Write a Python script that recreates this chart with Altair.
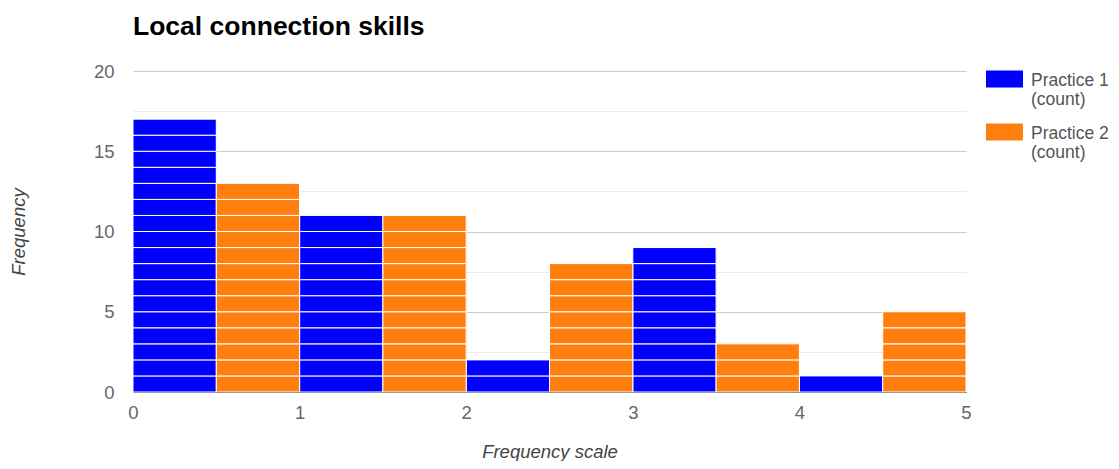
import altair as alt
import pandas as pd

# Histogram bins (left edge) and counts for each series
p1_bins = [0.0, 1.0, 2.0, 3.0, 4.0]
p1_counts = [17, 11, 2, 9, 1]
p2_bins = [0.5, 1.5, 2.5, 3.5, 4.5]
p2_counts = [13, 11, 8, 3, 5]
series_names = ["Practice 1 (count)", "Practice 2 (count)"]
series_colors = ["#0000ff", "#ff7f0e"]
bin_width = 0.5

rows = []
for name, bins, counts in [(series_names[0], p1_bins, p1_counts),
                           (series_names[1], p2_bins, p2_counts)]:
    for b, c in zip(bins, counts):
        for k in range(c):
            rows.append({"series": name, "x0": b, "x1": b + bin_width,
                         "y0": k, "y1": k + 1})
df = pd.DataFrame(rows)

FONT = "Liberation Sans"
FS = 18.5

y_ticks = [i * 2.5 for i in range(9)]

bars = alt.Chart(df).mark_rect(stroke="white", strokeWidth=1).encode(
    x=alt.X("x0:Q", scale=alt.Scale(domain=[0, 5], nice=False),
            axis=alt.Axis(values=[0, 1, 2, 3, 4, 5], title="Frequency scale",
                          grid=False, ticks=False, labelPadding=11,
                          labelFlush=False,
                          domainColor="#333333", titlePadding=21,
                          labelFontSize=FS, titleFontSize=FS,
                          titleFontStyle="italic", titleFontWeight="normal",
                          labelColor="#666666", titleColor="#444444",
                          labelFont=FONT, titleFont=FONT)),
    x2="x1:Q",
    y=alt.Y("y0:Q", scale=alt.Scale(domain=[0, 20], nice=False),
            axis=alt.Axis(values=y_ticks, title="Frequency",
                          labelExpr="datum.value % 5 == 0 ? datum.label : ''",
                          gridColor=alt.condition("datum.value % 5 == 0",
                                                  alt.value("#cccccc"),
                                                  alt.value("#ebebeb")),
                          domain=False, ticks=False, labelPadding=19,
                          titlePadding=65, labelFontSize=FS, titleFontSize=FS,
                          titleFontStyle="italic", titleFontWeight="normal",
                          labelColor="#666666", titleColor="#444444",
                          labelFont=FONT, titleFont=FONT)),
    y2="y1:Q",
    color=alt.Color("series:N",
                    scale=alt.Scale(domain=series_names, range=series_colors),
                    legend=alt.Legend(
                        title=None, orient="none", legendX=853, legendY=-9,
                        symbolType="M-1,-0.54H1V0.38H-1Z", symbolSize=1369,
                        symbolStrokeWidth=0, symbolOpacity=1,
                        labelFont=FONT, labelFontSize=17.5, labelColor="#555555",
                        labelOffset=8, rowPadding=6,
                        labelExpr="[split(datum.label, ' (')[0], '(' + split(datum.label, ' (')[1]]",
                        labelBaseline="middle", labelLimit=200)),
)

chart = bars.properties(
    width=833, height=321,
    autosize=alt.AutoSizeParams(type="none"),
    padding={"left": 125, "top": 63, "right": 145, "bottom": 69},
    title=alt.TitleParams("Local connection skills", anchor="start",
                          font=FONT, fontSize=26.5, fontWeight="bold",
                          color="#000000", offset=22, frame="group"),
).configure_view(stroke=None)

chart.save("out.html", embed_options={"renderer": "svg", "actions": False})
